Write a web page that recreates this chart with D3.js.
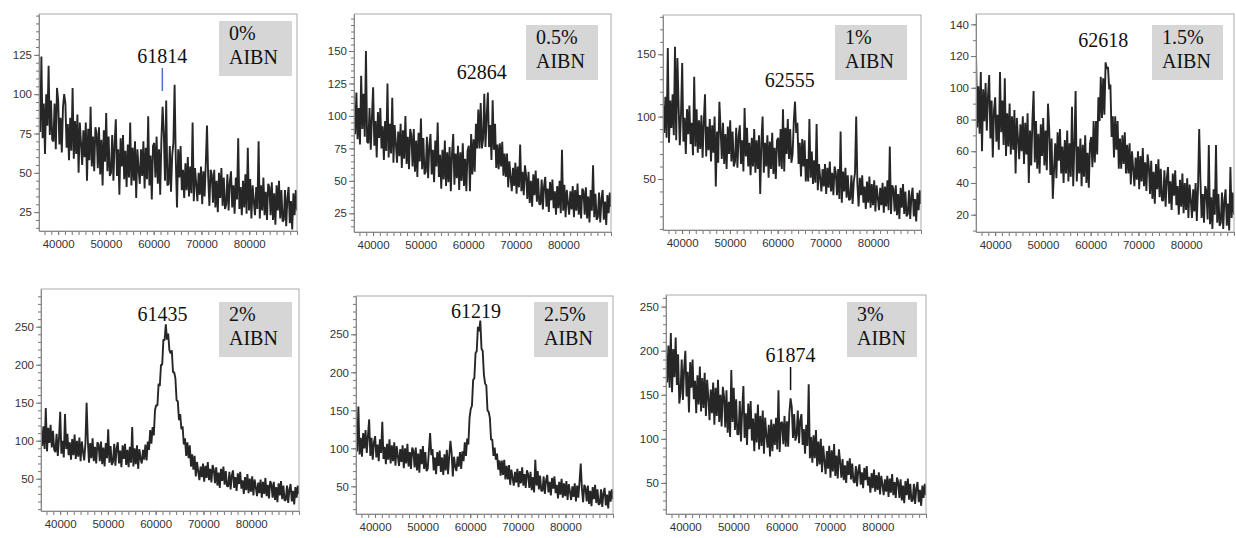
<!DOCTYPE html>
<html>
<head>
<meta charset="utf-8">
<script src="https://cdn.jsdelivr.net/npm/d3@7/dist/d3.min.js"></script>
<style>
  body { margin: 0; background: #fff; }
  .tick text { font-family: 'Liberation Sans', Arial, sans-serif; font-size: 11.5px; fill: #333; }
  .tick line { stroke: #777; }
  .domain { stroke: #888; }
</style>
</head>
<body>
<div id="chart"></div>
<script>
// spectra sampled evenly from xStart to xEnd (one value per step)
const xStart = 36000;
const xEnd = 90000;
const xTickLabels = [40000, 50000, 60000, 70000, 80000];
const xMinorStep = 10000 / 7;

const loadings = ['0%', '0.5%', '1%', '1.5%', '2%', '2.5%', '3%'];
const peakPositions = [61814, 62864, 62555, 62618, 61435, 61219, 61874];

const aibn0 = [
  98, 76, 124, 72, 94, 62, 100, 80, 118, 74, 96, 71,
  70, 94, 65, 104, 96, 68, 85, 63, 92, 100, 94, 66,
  81, 58, 85, 64, 104, 59, 83, 62, 87, 50, 82, 69,
  55, 77, 60, 82, 45, 78, 58, 92, 54, 73, 51, 79,
  75, 53, 79, 49, 71, 42, 77, 57, 88, 51, 73, 48,
  50, 74, 45, 68, 84, 48, 65, 36, 72, 54, 74, 46,
  64, 41, 68, 47, 82, 42, 66, 45, 70, 34, 65, 52,
  43, 65, 48, 70, 40, 66, 46, 86, 42, 61, 33, 67,
  69, 47, 73, 43, 65, 36, 71, 92, 75, 45, 96, 42,
  43, 67, 38, 61, 69, 106, 58, 28, 65, 47, 67, 39,
  52, 34, 56, 39, 60, 35, 54, 37, 82, 32, 53, 43,
  32, 50, 36, 54, 30, 51, 35, 56, 80, 47, 29, 52,
  49, 31, 52, 28, 45, 25, 50, 34, 53, 29, 47, 27,
  30, 49, 26, 44, 51, 28, 42, 24, 47, 33, 72, 27,
  41, 23, 45, 28, 49, 24, 66, 26, 46, 21, 42, 32,
  23, 41, 27, 70, 21, 42, 26, 47, 23, 38, 20, 43,
  41, 23, 44, 20, 37, 17, 42, 26, 45, 21, 39, 19,
  20, 39, 16, 34, 41, 18, 32, 14, 37, 23, 39, 26
];
const aibn05 = [
  110, 86, 118, 82, 106, 78, 131, 90, 117, 84, 150, 80,
  79, 106, 74, 99, 122, 77, 96, 68, 103, 83, 106, 75,
  92, 66, 96, 73, 125, 68, 94, 71, 114, 64, 93, 79,
  64, 88, 69, 94, 60, 89, 67, 100, 63, 84, 59, 90,
  85, 61, 90, 57, 81, 53, 87, 65, 98, 59, 83, 55,
  57, 84, 52, 77, 86, 55, 74, 49, 81, 61, 95, 53,
  70, 44, 74, 51, 81, 46, 72, 49, 76, 42, 71, 86,
  47, 71, 52, 77, 43, 72, 50, 79, 46, 67, 42, 73,
  77, 42, 86, 55, 82, 57, 94, 75, 105, 75, 110, 75,
  82, 117, 76, 100, 118, 76, 93, 66, 112, 74, 94, 60,
  78, 59, 79, 61, 80, 54, 71, 53, 71, 45, 65, 53,
  42, 60, 46, 64, 40, 61, 45, 78, 42, 57, 39, 62,
  54, 36, 57, 33, 50, 30, 55, 39, 58, 34, 52, 32,
  32, 51, 28, 46, 53, 30, 44, 26, 49, 35, 51, 29,
  42, 24, 46, 29, 50, 25, 74, 27, 47, 22, 43, 33,
  24, 42, 28, 46, 22, 43, 27, 48, 24, 39, 21, 44,
  42, 24, 45, 21, 38, 18, 43, 27, 62, 22, 40, 20,
  22, 41, 18, 36, 43, 20, 34, 16, 39, 25, 41, 30
];
const aibn1 = [
  111, 87, 116, 83, 155, 79, 113, 91, 118, 85, 156, 81,
  147, 109, 77, 102, 143, 80, 99, 70, 106, 86, 109, 78,
  95, 69, 132, 76, 106, 71, 97, 74, 101, 67, 96, 118,
  68, 92, 73, 98, 64, 93, 71, 100, 44, 88, 63, 112,
  90, 66, 95, 62, 86, 58, 92, 70, 97, 64, 88, 60,
  64, 91, 59, 84, 93, 62, 81, 56, 107, 68, 91, 60,
  79, 53, 83, 60, 90, 55, 81, 58, 85, 38, 80, 100,
  55, 79, 60, 85, 51, 80, 58, 87, 54, 75, 50, 81,
  83, 60, 90, 58, 106, 56, 91, 70, 98, 66, 90, 63,
  70, 96, 112, 87, 95, 62, 79, 52, 82, 60, 81, 48,
  66, 48, 98, 51, 72, 46, 65, 47, 94, 41, 62, 51,
  40, 58, 44, 62, 38, 59, 43, 64, 40, 55, 37, 60,
  55, 37, 58, 34, 88, 31, 56, 40, 59, 35, 53, 33,
  34, 53, 30, 48, 55, 100, 46, 28, 51, 37, 53, 31,
  44, 26, 48, 31, 52, 27, 46, 29, 49, 24, 45, 35,
  25, 43, 29, 47, 23, 44, 28, 49, 25, 76, 22, 45,
  42, 24, 45, 21, 38, 18, 43, 27, 46, 22, 40, 20,
  22, 41, 18, 36, 43, 20, 34, 16, 39, 25, 41, 30
];
const aibn15 = [
  122, 75, 101, 71, 110, 60, 99, 79, 103, 73, 95, 108,
  68, 92, 56, 86, 94, 66, 83, 61, 110, 72, 92, 64,
  106, 57, 84, 63, 90, 58, 82, 61, 86, 46, 81, 68,
  55, 77, 60, 82, 52, 78, 58, 84, 40, 73, 51, 79,
  98, 53, 79, 49, 71, 46, 77, 57, 81, 51, 73, 48,
  90, 74, 45, 68, 30, 48, 65, 43, 72, 54, 74, 46,
  63, 40, 67, 46, 73, 41, 65, 44, 88, 38, 64, 98,
  41, 63, 46, 68, 38, 64, 44, 70, 40, 59, 37, 65,
  69, 50, 79, 53, 79, 58, 94, 79, 107, 81, 106, 83,
  116, 112, 113, 99, 102, 69, 82, 56, 82, 61, 79, 49,
  68, 49, 70, 52, 72, 46, 64, 46, 65, 39, 60, 49,
  38, 56, 42, 60, 36, 57, 41, 62, 38, 53, 35, 58,
  51, 33, 54, 30, 47, 27, 52, 36, 55, 31, 49, 29,
  29, 48, 25, 43, 50, 27, 41, 23, 46, 32, 48, 26,
  38, 20, 42, 25, 46, 21, 40, 23, 43, 18, 39, 29,
  18, 36, 22, 40, 16, 37, 74, 42, 18, 33, 15, 38,
  35, 17, 64, 14, 31, 11, 36, 20, 64, 15, 33, 13,
  15, 34, 11, 29, 36, 13, 27, 10, 50, 18, 34, 20
];
const aibn2 = [
  115, 93, 119, 89, 143, 86, 117, 97, 121, 91, 113, 88,
  85, 109, 80, 103, 138, 83, 100, 78, 135, 89, 109, 81,
  98, 75, 102, 81, 108, 76, 100, 79, 104, 73, 99, 86,
  74, 96, 150, 101, 71, 97, 77, 103, 73, 92, 70, 98,
  95, 73, 99, 69, 91, 66, 97, 77, 115, 71, 93, 68,
  72, 96, 67, 90, 98, 70, 87, 65, 94, 76, 96, 68,
  88, 65, 92, 71, 118, 66, 90, 69, 94, 63, 89, 76,
  70, 88, 75, 95, 74, 99, 88, 114, 96, 118, 107, 140,
  147, 146, 175, 172, 200, 200, 233, 232, 253, 233, 241, 219,
  215, 219, 190, 190, 182, 153, 152, 127, 135, 115, 119, 95,
  103, 80, 98, 77, 94, 66, 82, 62, 80, 53, 72, 60,
  48, 66, 52, 70, 46, 67, 51, 72, 48, 63, 45, 68,
  62, 44, 65, 41, 58, 38, 63, 47, 66, 42, 60, 40,
  40, 59, 36, 54, 61, 38, 52, 34, 57, 43, 59, 37,
  48, 30, 52, 35, 56, 31, 50, 33, 53, 28, 49, 39,
  27, 45, 31, 49, 25, 46, 30, 51, 27, 42, 24, 47,
  43, 25, 46, 22, 39, 19, 44, 28, 47, 23, 41, 21,
  22, 41, 18, 36, 43, 20, 34, 16, 39, 25, 41, 30
];
const aibn25 = [
  118, 96, 155, 92, 114, 89, 120, 100, 124, 94, 116, 138,
  90, 114, 85, 108, 116, 88, 105, 83, 112, 94, 135, 86,
  102, 79, 106, 85, 112, 80, 104, 83, 108, 77, 103, 90,
  77, 99, 82, 104, 74, 100, 80, 106, 76, 95, 73, 101,
  97, 75, 101, 71, 93, 68, 99, 79, 103, 73, 95, 70,
  73, 97, 120, 91, 99, 71, 88, 66, 95, 77, 97, 69,
  88, 65, 92, 71, 98, 66, 90, 110, 94, 63, 89, 76,
  70, 89, 76, 95, 73, 96, 83, 108, 90, 113, 105, 140,
  152, 156, 190, 192, 225, 228, 260, 254, 268, 231, 228, 197,
  185, 183, 150, 148, 140, 111, 112, 90, 101, 85, 93, 72,
  84, 64, 84, 65, 85, 59, 77, 59, 78, 52, 72, 61,
  51, 69, 55, 73, 49, 70, 54, 75, 51, 66, 48, 71,
  66, 48, 69, 45, 62, 42, 85, 51, 70, 46, 64, 44,
  44, 63, 40, 58, 65, 42, 56, 38, 61, 47, 63, 41,
  52, 34, 56, 39, 60, 35, 54, 37, 57, 32, 53, 43,
  32, 50, 36, 54, 30, 51, 35, 56, 80, 47, 29, 52,
  48, 30, 51, 27, 44, 24, 49, 33, 52, 28, 46, 26,
  27, 46, 23, 41, 48, 25, 39, 21, 44, 30, 46, 33
];
const aibn3 = [
  199, 164, 206, 158, 220, 153, 202, 170, 215, 161, 196, 140,
  152, 190, 144, 180, 200, 148, 176, 130, 187, 158, 190, 145,
  166, 129, 172, 139, 182, 131, 169, 135, 175, 126, 167, 147,
  121, 156, 129, 164, 116, 158, 126, 167, 119, 150, 114, 159,
  148, 113, 155, 107, 142, 102, 178, 119, 158, 110, 145, 105,
  105, 143, 97, 133, 160, 101, 129, 93, 140, 111, 143, 98,
  123, 86, 129, 96, 139, 88, 126, 92, 132, 83, 124, 104,
  90, 116, 80, 122, 86, 117, 93, 124, 88, 155, 85, 118,
  119, 94, 126, 91, 120, 91, 129, 146, 136, 101, 128, 98,
  104, 132, 95, 121, 128, 93, 111, 83, 116, 92, 162, 78,
  102, 73, 104, 78, 110, 69, 97, 71, 100, 62, 92, 75,
  60, 86, 66, 92, 56, 87, 63, 94, 58, 81, 55, 88,
  74, 56, 77, 53, 70, 50, 75, 59, 78, 54, 72, 52,
  50, 69, 46, 64, 71, 48, 62, 44, 67, 53, 69, 47,
  57, 39, 61, 44, 65, 40, 59, 42, 62, 37, 58, 48,
  36, 54, 40, 58, 34, 55, 39, 60, 36, 51, 33, 56,
  51, 33, 54, 30, 47, 27, 52, 36, 55, 31, 49, 29,
  30, 49, 26, 44, 51, 28, 42, 24, 47, 33, 49, 36
];

const series = [aibn0, aibn05, aibn1, aibn15, aibn2, aibn25, aibn3];
const yDomains = [[13, 151], [10.6, 178.5], [9.1, 181.5], [9.1, 146.5], [7.5, 299.6], [13.6, 300.4], [14.7, 263.2]];
const yTickLabels = [
  [25, 50, 75, 100, 125],
  [25, 50, 75, 100, 125, 150],
  [50, 100, 150],
  [20, 40, 60, 80, 100, 120, 140],
  [50, 100, 150, 200, 250],
  [50, 100, 150, 200, 250],
  [50, 100, 150, 200, 250]
];
const yMinorSteps = [5, 5, 10, 10, 10, 10, 10];

// panel placement on the page
const frames = [
  { l: 39, t: 14, r: 297, b: 231 },
  { l: 354, t: 14, r: 611, b: 232 },
  { l: 663, t: 15, r: 921, b: 230 },
  { l: 976, t: 14, r: 1234, b: 232 },
  { l: 41, t: 289, r: 299, b: 511 },
  { l: 356, t: 296, r: 613, b: 514 },
  { l: 666, t: 295, r: 926, b: 514 }
];
// legend box: right offset, top offset, width
const boxes = [
  { dr: 5, dt: 7, w: 73 },
  { dr: 13, dt: 11, w: 72 },
  { dr: 14, dt: 10, w: 72 },
  { dr: 11, dt: 11, w: 71 },
  { dr: 7, dt: 13, w: 73 },
  { dr: 5, dt: 6, w: 74 },
  { dr: 9, dt: 7, w: 70 }
];
const peakLabelTop = [49, 65, 72, 33, 32, 22, 67];
const markers = { 0: { y0: 54, y1: 77, color: '#4a72c8' }, 6: { y0: 72, y1: 95, color: '#111' } };
const serif = "'Liberation Serif', 'Times New Roman', Times, serif";

const svg = d3.select('#chart').append('svg')
  .attr('width', 1236)
  .attr('height', 538);

const addLabel = (g, x, y, txt, anchor) => g.append('text')
  .attr('x', x)
  .attr('y', y)
  .attr('text-anchor', anchor || 'start')
  .style('font-family', serif)
  .style('font-size', '20px')
  .style('fill', '#111')
  .text(txt);

series.forEach((vals, p) => {
  const f = frames[p];
  const w = f.r - f.l;
  const h = f.b - f.t;
  const g = svg.append('g').attr('transform', `translate(${f.l},${f.t})`);

  const x = d3.scaleLinear().domain([xStart, xEnd]).range([0, w]);
  const y = d3.scaleLinear().domain(yDomains[p]).range([h, 0]);
  const step = (xEnd - xStart) / (vals.length - 1);

  g.append('defs').append('clipPath')
    .attr('id', `clip${p}`)
    .append('rect')
    .attr('width', w)
    .attr('height', h);

  const line = d3.line()
    .x((d, i) => x(xStart + i * step))
    .y((d) => y(d));

  g.append('path')
    .datum(vals)
    .attr('clip-path', `url(#clip${p})`)
    .attr('fill', 'none')
    .attr('stroke', '#000')
    .attr('stroke-opacity', 0.85)
    .attr('stroke-width', 1.9)
    .attr('stroke-linejoin', 'bevel')
    .attr('d', line);

  // frame
  g.append('rect')
    .attr('width', w)
    .attr('height', h)
    .attr('fill', 'none')
    .attr('stroke', '#aaa');

  // minor ticks
  const yMinor = d3.range(Math.ceil(yDomains[p][0] / yMinorSteps[p]) * yMinorSteps[p], yDomains[p][1], yMinorSteps[p]);
  g.append('g')
    .call(d3.axisLeft(y).tickValues(yMinor).tickSize(3).tickSizeOuter(0).tickFormat(''))
    .call((a) => a.select('.domain').remove());
  const x0 = xTickLabels[0] - Math.floor((xTickLabels[0] - xStart) / xMinorStep) * xMinorStep;
  const xMinor = d3.range(x0, xEnd + 1, xMinorStep);
  g.append('g')
    .attr('transform', `translate(0,${h})`)
    .call(d3.axisBottom(x).tickValues(xMinor).tickSize(4).tickSizeOuter(0).tickFormat(''))
    .call((a) => a.select('.domain').remove());

  // major axes
  g.append('g')
    .call(d3.axisLeft(y).tickValues(yTickLabels[p]).tickSize(5).tickSizeOuter(0).tickPadding(2).tickFormat(d3.format('d')));
  g.append('g')
    .attr('transform', `translate(0,${h})`)
    .call(d3.axisBottom(x).tickValues(xTickLabels).tickSize(4).tickSizeOuter(0).tickPadding(5).tickFormat(d3.format('d')));

  // legend box
  const b = boxes[p];
  const bx = w - b.dr - b.w;
  g.append('rect')
    .attr('x', bx)
    .attr('y', b.dt)
    .attr('width', b.w)
    .attr('height', 55)
    .attr('fill', '#d6d6d6');
  addLabel(g, bx + 10, b.dt + 19, loadings[p]);
  addLabel(g, bx + 10, b.dt + 43, 'AIBN');

  // peak label
  addLabel(g, x(peakPositions[p]), peakLabelTop[p], peakPositions[p], 'middle');

  if (markers[p]) {
    g.append('line')
      .attr('x1', x(peakPositions[p]))
      .attr('x2', x(peakPositions[p]))
      .attr('y1', markers[p].y0)
      .attr('y2', markers[p].y1)
      .attr('stroke', markers[p].color)
      .attr('stroke-width', 1.5);
  }
});
</script>
</body>
</html>
